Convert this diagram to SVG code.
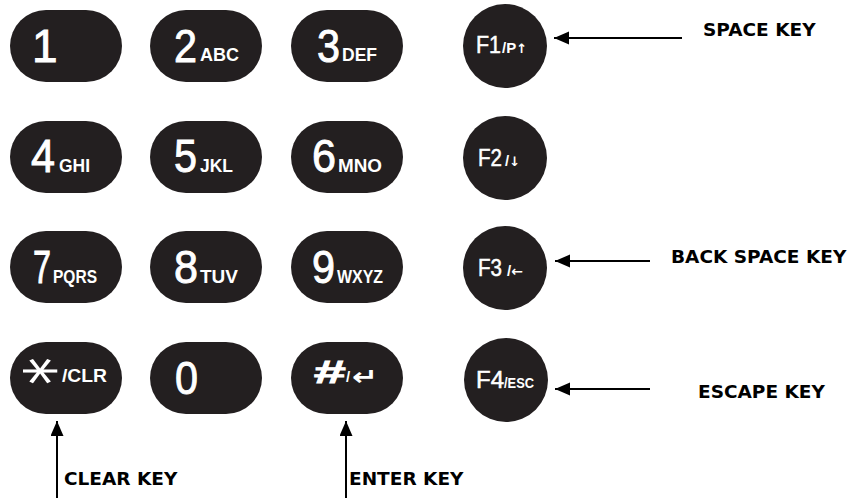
<svg xmlns="http://www.w3.org/2000/svg" width="855" height="498" viewBox="0 0 855 498">
<defs>
<style>
.key{fill:#231f20}
.dg{font-family:"Liberation Sans",Arial,sans-serif;font-size:46px;fill:#fff;stroke:#fff;stroke-width:0.9}
.lt{font-family:"Liberation Sans",Arial,sans-serif;font-weight:bold;font-size:18px;fill:#fff}
.fk{font-family:"Liberation Sans",Arial,sans-serif;font-size:23px;fill:#fff;stroke:#fff;stroke-width:0.5}
.fs{font-family:"Liberation Sans",Arial,sans-serif;font-weight:bold;font-size:15px;fill:#fff}
.sym{font-family:"DejaVu Sans",sans-serif;font-weight:bold;fill:#fff}
.lbl{font-family:"DejaVu Sans",Verdana,sans-serif;font-weight:bold;font-size:18.5px;fill:#000}
.cn{stroke:#000;stroke-width:2;fill:none;marker-end:url(#ah)}
</style>
<marker id="ah" markerWidth="16" markerHeight="14" refX="15" refY="6.5" orient="auto" markerUnits="userSpaceOnUse"><path d="M0,0 L15,6.5 L0,13 Z" fill="#000"/></marker>
</defs>
<rect width="855" height="498" fill="#fff"/>

<g id="key-1"><rect class="key" x="10" y="10" width="112" height="72" rx="36"/><text class="dg" x="32" y="62">1</text></g>
<g id="key-2"><rect class="key" x="150" y="10" width="112" height="72" rx="36"/><text class="dg" x="174" y="62" textLength="23" lengthAdjust="spacingAndGlyphs">2</text><text class="lt" x="200" y="61" textLength="39" lengthAdjust="spacingAndGlyphs">ABC</text></g>
<g id="key-3"><rect class="key" x="291" y="10" width="112" height="72" rx="36"/><text class="dg" x="317" y="62" textLength="23" lengthAdjust="spacingAndGlyphs">3</text><text class="lt" x="342" y="61" textLength="35" lengthAdjust="spacingAndGlyphs">DEF</text></g>

<g id="key-4"><rect class="key" x="10" y="121" width="112" height="72" rx="36"/><text class="dg" x="31" y="172" textLength="24" lengthAdjust="spacingAndGlyphs">4</text><text class="lt" x="59" y="172" textLength="31" lengthAdjust="spacingAndGlyphs">GHI</text></g>
<g id="key-5"><rect class="key" x="150" y="121" width="112" height="72" rx="36"/><text class="dg" x="174" y="172" textLength="23" lengthAdjust="spacingAndGlyphs">5</text><text class="lt" x="200" y="172" textLength="33" lengthAdjust="spacingAndGlyphs">JKL</text></g>
<g id="key-6"><rect class="key" x="291" y="121" width="112" height="72" rx="36"/><text class="dg" x="312" y="172" textLength="24" lengthAdjust="spacingAndGlyphs">6</text><text class="lt" x="338" y="172" textLength="44" lengthAdjust="spacingAndGlyphs">MNO</text></g>

<g id="key-7"><rect class="key" x="10" y="231" width="112" height="72" rx="36"/><text class="dg" x="33" y="283" textLength="18" lengthAdjust="spacingAndGlyphs">7</text><text class="lt" x="53" y="283" textLength="44" lengthAdjust="spacingAndGlyphs">PQRS</text></g>
<g id="key-8"><rect class="key" x="150" y="231" width="112" height="72" rx="36"/><text class="dg" x="174" y="283" textLength="24" lengthAdjust="spacingAndGlyphs">8</text><text class="lt" x="200" y="283" textLength="38" lengthAdjust="spacingAndGlyphs">TUV</text></g>
<g id="key-9"><rect class="key" x="291" y="231" width="112" height="72" rx="36"/><text class="dg" x="312" y="283" textLength="23" lengthAdjust="spacingAndGlyphs">9</text><text class="lt" x="337" y="283" textLength="46" lengthAdjust="spacingAndGlyphs">WXYZ</text></g>

<g id="key-star"><rect class="key" x="10" y="342" width="112" height="72" rx="36"/><text class="sym" transform="translate(44,371) rotate(90) scale(0.95,1.3)" x="0" y="32" text-anchor="middle" style="font-size:58px;font-weight:normal">*</text><text class="lt" x="62" y="382" textLength="45" lengthAdjust="spacingAndGlyphs">/CLR</text></g>
<g id="key-0"><rect class="key" x="150" y="342" width="112" height="72" rx="36"/><text class="dg" x="175" y="394" textLength="23" lengthAdjust="spacingAndGlyphs">0</text></g>
<g id="key-hash"><rect class="key" x="291" y="342" width="112" height="72" rx="36"/><text class="dg" x="313" y="383" style="font-weight:bold;font-style:italic;font-size:32px;stroke-width:0.8" textLength="32" lengthAdjust="spacingAndGlyphs">#</text><text class="fs" x="346" y="382">/</text><text class="sym" x="352" y="385" style="font-size:24px" textLength="26" lengthAdjust="spacingAndGlyphs">↵</text></g>

<g id="key-f1"><circle class="key" cx="505" cy="46" r="42"/><text class="fk" x="476" y="53" textLength="25" lengthAdjust="spacingAndGlyphs">F1</text><text class="fs" x="502" y="53">/P<tspan class="sym" style="font-size:13px">↑</tspan></text></g>
<g id="key-f2"><circle class="key" cx="505" cy="158" r="42"/><text class="fk" x="478" y="166" textLength="24" lengthAdjust="spacingAndGlyphs">F2</text><text class="fs" x="505" y="166">/<tspan class="sym" style="font-size:13px">↓</tspan></text></g>
<g id="key-f3"><circle class="key" cx="505" cy="268" r="42"/><text class="fk" x="478" y="276" textLength="24" lengthAdjust="spacingAndGlyphs">F3</text><text class="fs" x="507" y="276">/<tspan class="sym" style="font-size:14px">←</tspan></text></g>
<g id="key-f4"><circle class="key" cx="506" cy="380" r="42"/><text class="fk" x="476" y="388" textLength="28" lengthAdjust="spacingAndGlyphs">F4</text><text class="fs" x="504" y="388" textLength="30" lengthAdjust="spacingAndGlyphs">/ESC</text></g>

<g id="connectors">
<line class="cn" x1="682" y1="38" x2="554" y2="38"/>
<line class="cn" x1="650" y1="261" x2="555" y2="261"/>
<line class="cn" x1="650" y1="389" x2="555" y2="389"/>
<line class="cn" x1="57" y1="498" x2="57" y2="421"/>
<line class="cn" x1="346" y1="498" x2="346" y2="421"/>
</g>

<g id="label-space"><text class="lbl" x="703" y="36">SPACE KEY</text></g>
<g id="label-backspace"><text class="lbl" x="671" y="263">BACK SPACE KEY</text></g>
<g id="label-escape"><text class="lbl" x="698" y="398">ESCAPE KEY</text></g>
<g id="label-clear"><text class="lbl" x="64" y="485">CLEAR KEY</text></g>
<g id="label-enter"><text class="lbl" x="349" y="485">ENTER KEY</text></g>
</svg>
